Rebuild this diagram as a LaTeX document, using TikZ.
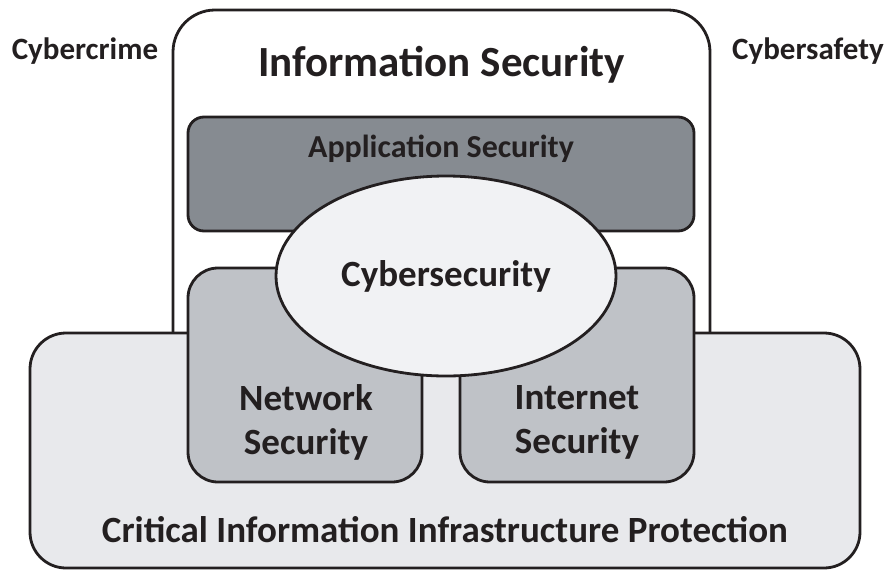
\documentclass[tikz,border=0pt]{standalone}
\usepackage{fontspec}
\setmainfont{Carlito}
\usepackage{xcolor}
\usetikzlibrary{positioning,shapes.geometric}
\definecolor{edgegray}{RGB}{35,31,32}
\definecolor{ciipfill}{RGB}{232,233,236}
\definecolor{appfill}{RGB}{134,139,145}
\definecolor{netfill}{RGB}{191,194,199}
\definecolor{cyberfill}{RGB}{241,242,244}
\tikzset{
  area/.style={draw=edgegray, line width=2.8pt, rectangle, inner sep=0pt},
  lbl/.style 2 args={font=\bfseries\fontsize{#1}{#2}\selectfont, align=center, text=edgegray},
}

\begin{document}
\begin{tikzpicture}[x=1pt,y=-1pt]
    \useasboundingbox (0,0) rectangle (894,579);
    % outer frames
    \node[area, fill=white, rounded corners=42pt, minimum width=537pt, minimum height=400pt] (infosec) at (441.5,210) {};
    \node[area, fill=ciipfill, rounded corners=36pt, minimum width=830pt, minimum height=235pt] (ciip) at (445,450.5) {};
    % inner areas
    \node[area, fill=appfill, rounded corners=16pt, minimum width=506pt, minimum height=114pt] (appsec) at (441,174) {};
    \node[area, fill=netfill, rounded corners=30pt, minimum width=234pt, minimum height=214pt] (netsec) at (305,375) {};
    \node[area, fill=netfill, rounded corners=30pt, minimum width=234pt, minimum height=214pt] (inetsec) at (577,375) {};
    \node[area, ellipse, fill=cyberfill, minimum width=340pt, minimum height=200pt] (cyber) at (446,276) {};
    % labels
    \node[lbl={43}{52}] (infosecl) at (441.5,65) {Information Security};
    \node[lbl={32}{38}] (appsecl) at (441,149) {Application Security};
    \node[lbl={37}{44}] (cyberl) at (cyber) {Cybersecurity};
    \node[lbl={37}{44}] (netsecl) at (306,422) {Network\\Security};
    \node[lbl={37}{44}] (inetsecl) at (577,422) {Internet\\Security};
    \node[lbl={37}{44}] (ciipl) at (445,530) {Critical Information Infrastructure Protection};
    \node[lbl={31}{37}] (crime) at (85,51) {Cybercrime};
    \node[lbl={31}{37}] (safety) at (808,51) {Cybersafety};
\end{tikzpicture}
\end{document}
